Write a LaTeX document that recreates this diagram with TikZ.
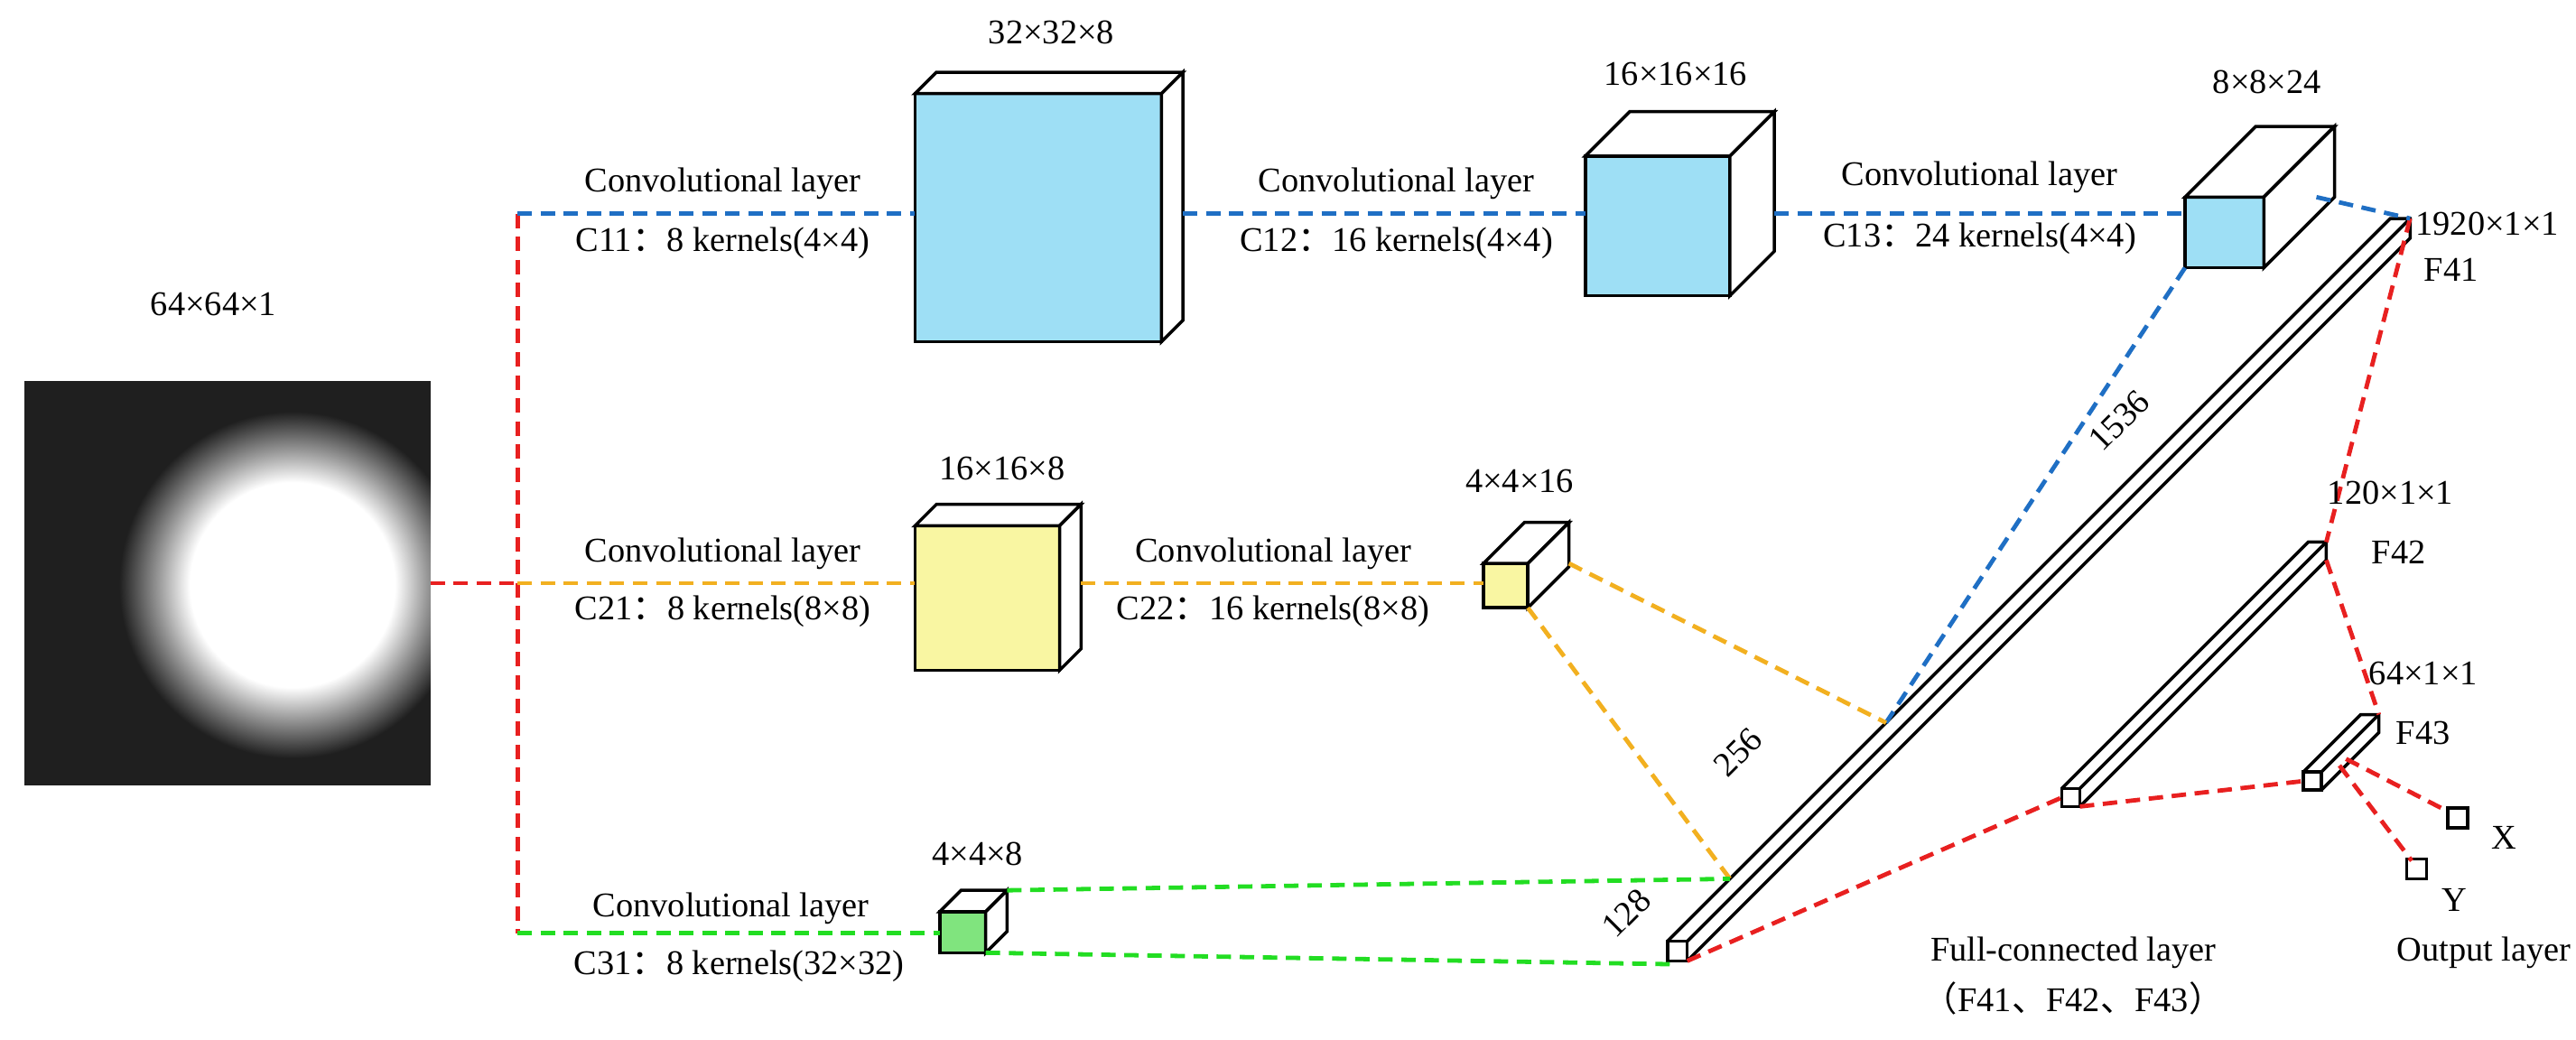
\documentclass[tikz,border=0pt]{standalone}
\usepackage{fontspec}
\setmainfont{Liberation Serif}
\newfontfamily\cjk{Noto Sans CJK SC}
\definecolor{cblue}{HTML}{9EDFF5}
\definecolor{cyel}{HTML}{F9F6A2}
\definecolor{cgrn}{HTML}{80E47E}
\definecolor{lblue}{HTML}{1F6FC4}
\definecolor{lorg}{HTML}{F2B020}
\definecolor{lgrn}{HTML}{22DD22}
\definecolor{lred}{HTML}{E82020}
\pgfdeclareradialshading{blob}{\pgfpoint{0bp}{0bp}}{color(0bp)=(white);color(13bp)=(white);color(17bp)=(black!40);color(22bp)=(black!88);color(25bp)=(black!88)}
\tikzset{
 txt/.style={font=\fontsize{12}{14}\selectfont,inner sep=1pt},
 dl/.style={dashed,dash pattern=on 5pt off 3pt,line width=1.5pt},
 edge/.style={line width=1.1pt,line join=miter}
}
\newcommand{\cub}[7]{% x1 y1 x2 y2 d fill name
 \fill[#6] (#1,#2) rectangle (#3,#4);
 \draw[edge] (#1,#2) rectangle (#3,#4);
 \draw[edge,fill=white] (#1,#2) -- ++(#5,-#5) -- (#3+#5,#2-#5) -- (#3,#2) -- cycle;
 \draw[edge,fill=white] (#3,#2) -- (#3+#5,#2-#5) -- (#3+#5,#4-#5) -- (#3,#4) -- cycle;
 \coordinate (#7tr) at (#3+#5,#2-#5);
 \coordinate (#7bl) at (#1,#4);
 \coordinate (#7br) at (#3,#4);
}
\newcommand{\fcbar}[5]{% x y size v name
 \draw[edge,fill=white] (#1,#2) rectangle ++(#3,#3);
 \draw[edge] (#1,#2) -- ++(#4,-#4) -- ++(#3,0) -- ++(0,#3) -- (#1+#3,#2+#3);
 \draw[edge] (#1+#3,#2) -- ++(#4,-#4);
 \coordinate (#5bl) at (#1,#2+#3/2);
 \coordinate (#5br) at (#1+#3,#2+#3);
 \coordinate (#5tr) at (#1+#3+#4,#2-#4);
 \coordinate (#5r) at (#1+#3+#4,#2+#3-#4);
}
\begin{document}
\begin{tikzpicture}[x=0.02cm,y=-0.02cm]
\useasboundingbox (0,0) rectangle (1568,633);
% input image
\fill[black!88] (15,232) rectangle (262,478);
\begin{scope}
\clip (15,232) rectangle (262,478);
\shade[shading=blob] (178,356) circle (120);
\end{scope}
\node[txt] (inl) at (130,185) {64×64×1};
\coordinate (img) at (262,355);
\coordinate (jn) at (315,355);
\coordinate (jt) at (315,130);
\coordinate (jb) at (315,568);
% cubes
\cub{557}{57}{707}{208}{13}{cblue}{A}
\cub{965}{95}{1053}{180}{27}{cblue}{B}
\cub{1330}{120}{1378}{163}{43}{cblue}{C}
\cub{557}{320}{645}{408}{13}{cyel}{D}
\cub{903}{343}{930}{370}{25}{cyel}{E}
\cub{572}{555}{600}{580}{13}{cgrn}{G}
\coordinate (Al) at (557,130); \coordinate (Ar) at (720,130);
\coordinate (Bl) at (965,130); \coordinate (Br) at (1080,130);
\coordinate (Cl) at (1330,130);
\coordinate (Dl) at (557,355); \coordinate (Dr) at (658,355);
\coordinate (El) at (903,355);
\coordinate (Gl) at (572,568);
% bars
\fcbar{1015}{573}{12}{440}{F}
\fcbar{1255}{480}{11}{150}{H}
\fcbar{1402}{470}{11}{35}{K}
\draw[edge] (1490,492) rectangle (1502,504);
\draw[edge] (1465,523) rectangle (1477,535);
\coordinate (Xc) at (1490,494);
\coordinate (Yc) at (1468,524);
\coordinate (Fm) at (1148,440);
\coordinate (Fg) at (1053,535);
\coordinate (Fb) at (1018,587);
% red
\draw[dl,lred] (img) -- (jn);
\draw[dl,lred] (jt) -- (jb);
\draw[dl,lred] (Ftr) -- (Htr);
\draw[dl,lred] (Hr) -- (Ktr);
\draw[dl,lred] (Fbr) -- (Hbl);
\draw[dl,lred] (Hbr) -- (Kbl);
\draw[dl,lred] (1428,462) -- (Xc);
\draw[dl,lred] (1424,466) -- (Yc);
% blue
\draw[dl,lblue] (jt) -- (Al);
\draw[dl,lblue] (Ar) -- (Bl);
\draw[dl,lblue] (Br) -- (Cl);
\draw[dl,lblue] (1410,120) -- (Ftr);
\draw[dl,lblue] (Cbl) -- (Fm);
% orange
\draw[dl,lorg] (jn) -- (Dl);
\draw[dl,lorg] (Dr) -- (El);
\draw[dl,lorg] (955,343) -- (Fm);
\draw[dl,lorg] (Ebr) -- (Fg);
% green
\draw[dl,lgrn] (jb) -- (Gl);
\draw[dl,lgrn] (Gtr) -- (Fg);
\draw[dl,lgrn] (Gbr) -- (Fb);
% labels
\node[txt] at (640,20) {32×32×8};
\node[txt] at (1020,45) {16×16×16};
\node[txt] at (1380,50) {8×8×24};
\node[txt] at (610,285) {16×16×8};
\node[txt] at (925,293) {4×4×16};
\node[txt] at (595,520) {4×4×8};
\node[txt] at (440,112) {Convolutional layer};
\node[txt] at (440,148) {C11{\cjk ：}8 kernels(4×4)};
\node[txt] at (850,112) {Convolutional layer};
\node[txt] at (850,148) {C12{\cjk ：}16 kernels(4×4)};
\node[txt] at (1205,108) {Convolutional layer};
\node[txt] at (1205,145) {C13{\cjk ：}24 kernels(4×4)};
\node[txt] at (440,337) {Convolutional layer};
\node[txt] at (440,372) {C21{\cjk ：}8 kernels(8×8)};
\node[txt] at (775,337) {Convolutional layer};
\node[txt] at (775,372) {C22{\cjk ：}16 kernels(8×8)};
\node[txt] at (445,553) {Convolutional layer};
\node[txt] at (450,588) {C31{\cjk ：}8 kernels(32×32)};
\node[txt] at (1514,136) {1920×1×1};
\node[txt] at (1492,164) {F41};
\node[txt,rotate=45] at (1290,256) {1536};
\node[txt,rotate=45] at (1058,458) {256};
\node[txt,rotate=45] at (990,556) {128};
\node[txt] at (1455,300) {120×1×1};
\node[txt] at (1460,336) {F42};
\node[txt] at (1475,410) {64×1×1};
\node[txt] at (1475,446) {F43};
\node[txt] at (1524,510) {X};
\node[txt] at (1494,548) {Y};
\node[txt] at (1262,580) {Full-connected layer};
\node[txt] at (1262,608) {{\cjk （}F41{\cjk 、}F42{\cjk 、}F43{\cjk ）}};
\node[txt] at (1512,580) {Output layer};
\end{tikzpicture}
\end{document}
